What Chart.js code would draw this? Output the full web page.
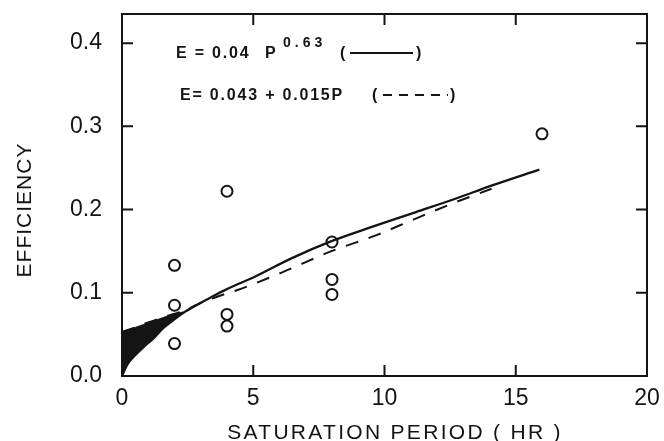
<!DOCTYPE html>
<html>
<head>
<meta charset="utf-8">
<script src="https://cdn.jsdelivr.net/npm/chart.js@4.4.1/dist/chart.umd.min.js"></script>
<style>
  body { margin: 0; background: #fff; }
</style>
</head>
<body>
<canvas id="efficiencyChart" width="664" height="441"></canvas>
<script>
// observed points (open circles)
const satHours = [2, 2, 2, 4, 4, 4, 8, 8, 8, 16];
const efficiency = [0.133, 0.085, 0.039, 0.222, 0.074, 0.060, 0.161, 0.116, 0.098, 0.291];

// solid curve
const solidP = [0, 0.23, 0.47, 0.83, 1.19, 1.55, 1.91, 2.34, 2.88, 3.36, 3.84, 4.38, 4.98, 6.43, 7.98, 9.6, 11.2, 12.7, 14.1, 15.9];
const solidE = [0, 0.015, 0.024, 0.035, 0.045, 0.057, 0.066, 0.076, 0.086, 0.094, 0.102, 0.110, 0.118, 0.141, 0.162, 0.180, 0.197, 0.213, 0.229, 0.248];

// dashed line
const dashP = [0, 0.47, 0.96, 1.44, 1.91, 2.34, 2.88, 3.6, 4.55, 6.06, 7.98, 9.67, 11.1, 12.56, 14.08];
const dashE = [0.053, 0.058, 0.064, 0.069, 0.074, 0.078, 0.086, 0.095, 0.105, 0.124, 0.150, 0.169, 0.188, 0.207, 0.225];

// black wedge near the origin (upper edge, filled down to the solid curve)
const wedgeP = [0, 0.23, 0.47, 0.83, 1.19, 1.55, 1.91, 2.34];
const wedgeE = [0.053, 0.055, 0.058, 0.062, 0.066, 0.070, 0.074, 0.077];

const xTicks = [0, 5, 10, 15, 20];
const yTicks = [0, 0.1, 0.2, 0.3, 0.4];

const ink = '#141414';
const face = '"Liberation Sans", Arial, sans-serif';

const pts = (xs, ys) => xs.map((v, i) => ({x: v, y: ys[i]}));

// box, inward tick marks, equations and axis titles
const paperLook = {
  id: 'paperLook',
  afterDraw(chart) {
    const ctx = chart.ctx;
    const a = chart.chartArea;
    const xs = chart.scales.x, ys = chart.scales.y;
    ctx.save();
    ctx.strokeStyle = ink;
    ctx.lineWidth = 2;
    ctx.strokeRect(a.left, a.top, a.right - a.left, a.bottom - a.top);
    ctx.beginPath();
    xTicks.slice(1, -1).forEach(v => {
      const px = xs.getPixelForValue(v);
      ctx.moveTo(px, a.bottom); ctx.lineTo(px, a.bottom - 11);
      ctx.moveTo(px, a.top); ctx.lineTo(px, a.top + 11);
    });
    yTicks.slice(1).forEach(v => {
      const py = ys.getPixelForValue(v);
      ctx.moveTo(a.left, py); ctx.lineTo(a.left + 11, py);
      ctx.moveTo(a.right, py); ctx.lineTo(a.right - 11, py);
    });
    ctx.stroke();

    // equations
    ctx.fillStyle = ink;
    ctx.textBaseline = 'alphabetic';
    ctx.textAlign = 'left';
    ctx.letterSpacing = '1.8px';
    ctx.font = 'bold 16px ' + face;
    ctx.fillText('E = 0.04', 176, 58);
    ctx.fillText('P', 265, 58);
    ctx.fillText('(', 340, 58);
    ctx.fillText(')', 416, 58);
    ctx.fillText('E= 0.043 + 0.015P', 180, 100);
    ctx.fillText('(', 372, 100);
    ctx.fillText(')', 450, 100);
    ctx.font = 'bold 14px ' + face;
    ctx.letterSpacing = '4px';
    ctx.fillText('0.63', 283, 47);
    ctx.lineWidth = 2;
    ctx.beginPath();
    ctx.moveTo(350, 53); ctx.lineTo(413, 53);
    ctx.stroke();
    ctx.setLineDash([9, 7]);
    ctx.beginPath();
    ctx.moveTo(383, 95); ctx.lineTo(448, 95);
    ctx.stroke();
    ctx.setLineDash([]);

    // axis titles
    ctx.font = '21px ' + face;
    ctx.textAlign = 'center';
    ctx.letterSpacing = '2.3px';
    ctx.fillText('SATURATION PERIOD ( HR )', 395, 439);
    ctx.translate(25, 210);
    ctx.rotate(-Math.PI / 2);
    ctx.textBaseline = 'middle';
    ctx.letterSpacing = '1px';
    ctx.fillText('EFFICIENCY', 0, 0);
    ctx.restore();
  }
};

const data = {
  datasets: [
    {
      label: 'Observed',
      data: pts(satHours, efficiency),
      showLine: false,
      pointStyle: 'circle',
      pointRadius: 5.5,
      pointBorderWidth: 2,
      pointBorderColor: ink,
      pointBackgroundColor: 'rgba(0,0,0,0)',
      order: 0
    },
    {
      label: 'E = 0.04 P^0.63',
      data: pts(solidP, solidE),
      borderColor: ink,
      borderWidth: 2.3,
      pointRadius: 0,
      cubicInterpolationMode: 'monotone',
      fill: false,
      order: 1
    },
    {
      label: 'E = 0.043 + 0.015P',
      data: pts(dashP, dashE),
      borderColor: ink,
      borderWidth: 2,
      borderDash: [13, 11],
      pointRadius: 0,
      cubicInterpolationMode: 'monotone',
      fill: false,
      order: 2
    },
    {
      label: 'wedge',
      data: pts(wedgeP, wedgeE),
      borderColor: ink,
      borderWidth: 1,
      backgroundColor: ink,
      pointRadius: 0,
      cubicInterpolationMode: 'monotone',
      fill: 1,
      order: 3
    }
  ]
};

const config = {
  type: 'line',
  data: data,
  options: {
    responsive: false,
    animation: false,
    layout: { padding: { top: 14, right: 17, left: 0, bottom: 0 } },
    plugins: {
      legend: { display: false },
      tooltip: { enabled: false }
    },
    scales: {
      x: {
        type: 'linear',
        min: 0,
        max: 20,
        grid: { display: false, drawTicks: false },
        border: { display: false },
        ticks: {
          stepSize: 5,
          padding: 9,
          color: ink,
          font: { family: face, size: 23 }
        },
        afterBuildTicks: s => { s.ticks = xTicks.map(v => ({value: v})); },
        afterFit: s => { s.height = 65; s.paddingLeft = 0; s.paddingRight = 0; }
      },
      y: {
        min: 0,
        max: 0.435,
        grid: { display: false, drawTicks: false },
        border: { display: false },
        ticks: {
          stepSize: 0.1,
          padding: 20,
          color: ink,
          font: { family: face, size: 23 },
          callback: v => Number(v).toFixed(1)
        },
        afterBuildTicks: s => { s.ticks = yTicks.map(v => ({value: v})); },
        afterFit: s => { s.width = 122; s.paddingTop = 0; s.paddingBottom = 0; }
      }
    }
  },
  plugins: [paperLook]
};

let efficiencyChart = new Chart(document.getElementById('efficiencyChart'), config);
</script>
</body>
</html>
